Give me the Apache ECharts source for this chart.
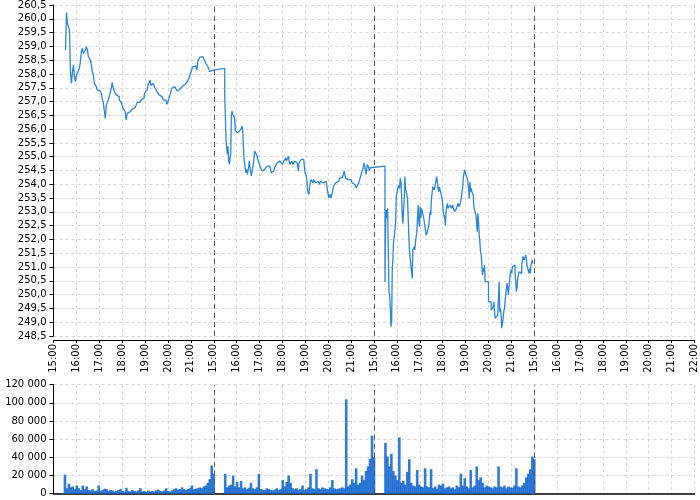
<!DOCTYPE html>
<html><head><meta charset="utf-8">
<script src="https://cdn.jsdelivr.net/npm/echarts@6/dist/echarts.min.js"></script>
<style>html,body{margin:0;padding:0;background:#fff}#c{width:700px;height:500px}</style>
</head><body><div id="c"></div>
<script>
// Trading sessions are shown as 15:00–22:00 blocks (420 minutes each)
const sessionMinutes = 420;
const sessionsOnAxis = 4;

// Price samples per session: first sample minute after 15:00 and sampling step (minutes)
const priceStart = [31.4, 28.8, 28.8];
const priceStep = [2.609, 1.739, 1.739];

const price1 = [258.87,260.23,259.84,259.84,259.59,258.08,257.66,258.08,258.32,257.90,
257.72,257.96,257.94,258.11,258.23,258.45,258.81,258.93,258.75,258.81,
258.87,258.99,258.87,258.63,258.63,258.51,258.32,258.08,257.96,257.66,
257.60,257.54,257.42,257.48,257.38,257.33,257.30,257.09,256.94,257.00,
256.39,256.87,256.84,257.06,257.12,257.33,257.48,257.70,257.48,257.38,
257.33,257.24,257.18,257.18,257.06,257.02,256.97,256.85,256.75,256.69,
256.63,256.33,256.57,256.61,256.63,256.61,256.66,256.72,256.73,256.78,
256.81,256.87,256.97,256.94,256.97,257.00,257.06,257.09,257.12,257.24,
257.33,257.38,257.42,257.60,257.66,257.78,257.58,257.60,257.66,257.60,
257.48,257.45,257.36,257.30,257.24,257.21,257.18,257.12,257.08,257.06,
257.03,257.00,256.90,256.87,257.12,257.24,257.38,257.48,257.54,257.54,
257.58,257.48,257.38,257.36,257.45,257.48,257.50,257.54,257.60,257.62,
257.65,257.67,257.70,257.74,257.84,257.96,258.02,258.18,258.26,258.30,
258.29,258.30,258.14,258.47,258.54,258.61,258.63,258.63,258.61,258.54,
258.51,258.39,258.32,258.26,258.18,258.08,258.02,258.14,258.20];

const price2 = [257.19,257.13,255.56,255.50,255.08,255.38,254.84,254.72,254.96,255.08,
256.53,256.65,256.53,256.59,256.47,256.41,255.93,255.87,255.93,255.90,
255.87,255.93,255.81,255.93,255.99,256.05,256.11,255.99,255.44,254.96,
254.96,254.54,254.42,254.54,254.36,254.48,254.60,254.84,254.60,254.48,
254.30,254.30,254.36,254.72,254.90,255.20,255.20,255.14,255.08,255.02,
254.90,254.84,254.84,254.66,254.66,254.60,254.48,254.48,254.54,254.54,
254.54,254.48,254.54,254.60,254.66,254.66,254.66,254.66,254.60,254.54,
254.42,254.36,254.48,254.48,254.54,254.60,254.66,254.66,254.66,254.78,
254.78,254.72,254.78,254.84,254.78,254.84,254.78,254.72,254.78,254.84,
254.90,254.84,254.96,254.84,254.78,254.90,255.02,254.84,254.72,254.78,
254.78,254.84,254.78,254.72,254.78,254.84,254.78,254.78,254.84,254.78,
254.66,254.48,254.78,254.84,254.78,254.90,254.90,254.90,254.90,254.90,
254.90,254.42,254.36,254.30,254.11,253.75,253.81,253.63,253.93,254.05,
254.17,254.23,254.11,254.05,254.17,254.11,254.17,254.05,254.11,253.99,
254.05,254.11,254.05,253.99,254.11,254.05,254.11,254.05,254.05,254.11,
254.11,254.11,254.11,254.05,253.93,253.75,253.69,253.51,253.57,253.63,
253.51,253.57,253.69,253.81,253.93,253.99,253.99,254.05,254.11,254.05,
254.11,254.11,254.17,254.23,254.17,254.30,254.17,254.23,254.30,254.36,
254.48,254.36,254.23,254.23,254.17,254.17,254.23,254.23,254.17,254.17,
254.17,254.11,254.05,254.05,253.99,254.05,253.99,253.93,253.87,253.93,
253.81,253.93,254.05,254.11,254.23,254.23,254.17,254.30,254.54,254.66,
254.78,254.66,254.48,254.36,254.54,254.72,254.72,254.60,254.48,254.60,
254.66,254.60,254.66,254.66];

const price3 = [250.47,252.64,253.07,252.77,253.13,253.19,250.11,249.99,249.50,248.84,
249.02,250.95,251.32,251.98,252.10,252.16,252.64,253.55,253.61,253.85,
253.91,253.97,253.85,254.22,254.09,253.61,252.89,252.58,253.07,253.37,
254.28,253.85,253.91,253.79,253.49,253.49,252.04,251.56,251.50,251.07,
250.83,250.59,251.62,251.68,251.74,251.62,251.92,251.92,252.28,252.34,
253.25,252.64,252.46,253.19,252.77,253.13,253.13,253.07,252.83,252.77,
252.52,252.46,252.16,252.10,252.28,252.28,252.52,252.58,253.01,252.89,
253.49,253.67,253.91,253.85,253.79,253.91,253.97,253.97,254.28,254.22,
253.85,253.73,253.91,253.85,253.85,253.85,253.49,253.25,252.95,252.89,
252.77,252.52,253.01,252.95,253.31,253.13,253.19,253.13,253.25,253.25,
253.13,253.07,253.25,253.13,253.07,253.01,252.95,252.95,253.13,253.13,
253.31,253.25,253.19,253.19,253.37,253.49,253.73,253.85,254.22,254.22,
254.52,254.52,254.34,254.28,254.22,254.15,253.85,253.49,254.09,253.73,
253.85,253.73,253.67,253.61,253.19,253.07,253.01,252.89,252.64,252.28,
252.95,252.64,252.16,251.92,251.56,251.44,251.07,250.71,250.95,250.83,
251.07,250.47,250.47,250.41,250.47,250.47,249.74,249.68,249.74,249.74,
249.44,249.44,249.50,249.56,249.74,249.74,249.14,249.14,249.20,249.08,
249.26,249.26,250.47,249.38,249.50,249.26,248.78,248.78,249.14,249.38,
249.50,249.50,249.99,249.99,250.41,250.23,249.99,249.99,250.59,250.59,
250.89,250.77,251.01,251.01,251.07,251.07,250.83,250.47,250.11,250.23,
250.59,250.71,250.83,250.83,250.77,250.77,251.07,251.19,251.38,251.44,
251.25,251.19,251.44,251.32,251.07,250.95,250.89,250.77,250.95,250.77,
251.07,251.07,251.25,251.13];

// Volume per session, first bar at 15:30, one bar every 5.2 minutes up to 22:00
const volumeStart = 30;
const volumeStep = 5.2;
const volume1 = [21000,6000,11000,7000,8000,5000,9000,6000,4000,9000,
5000,8000,4000,3500,5000,3000,3500,9000,3000,4000,
5500,5000,3000,4000,3500,2500,3000,4000,5000,3000,
2500,6500,3000,2500,4000,3000,2500,3500,6000,2500,
3000,2000,3500,2500,3000,2500,3500,4500,3000,2500,
3500,6000,3000,2500,3500,5000,6000,4500,5000,7000,
5000,4000,5000,6000,9000,5000,5500,6000,7000,6000,
8000,9000,12000,16000,31000,22000];
const volume2 = [22000,7000,9000,10000,20000,8000,13000,7000,14000,6000,
7000,5000,6500,12000,6000,5000,7000,22000,5000,4500,
4000,6000,5000,4000,3500,4500,6000,4000,5000,15000,
8000,13000,20000,12000,6000,5000,6000,4500,5000,9000,
4500,5000,7000,22000,6000,5000,27000,6000,5000,7000,
6000,5500,5000,7000,15000,6000,5000,5500,6000,7000,
6000,104000,8000,10000,16000,12000,28000,10000,12000,20000,
15000,25000,30000,38000,64000,40000];
const volume3 = [56000,41000,30000,44000,25000,20000,15000,62000,12000,14000,
10000,24000,38000,12000,9000,8000,26000,10000,8000,7000,
28000,8000,7000,27000,6000,8000,5500,10000,9000,11000,
6000,7000,8000,6000,7000,5000,9000,7000,22000,9000,
17000,8000,6000,26000,7000,9000,30000,15000,18000,12000,
7000,9000,8000,7000,6000,8000,7000,30000,8000,7000,
9000,6000,8000,7000,6500,9000,28000,8000,7000,9000,
12000,18000,22000,27000,41000,38000];

const priceSessions = [price1, price2, price3];
const volumeSessions = [volume1, volume2, volume3];

const pricePoints = [];
priceSessions.forEach((arr, s) => {
  arr.forEach((v, i) => pricePoints.push([s * sessionMinutes + priceStart[s] + i * priceStep[s], v]));
});
const volumePoints = [];
volumeSessions.forEach((arr, s) => {
  arr.forEach((v, i) => volumePoints.push([s * sessionMinutes + volumeStart + i * volumeStep, v]));
});
const sessionBreaks = [];
for (let s = 1; s < priceSessions.length + 1; s++) sessionBreaks.push({ xAxis: s * sessionMinutes });

const FONT = 'DejaVu Sans';
const gridLine = { show: true, lineStyle: { color: '#d6d6d6', type: [3, 3], width: 1 } };
const xMax = sessionMinutes * sessionsOnAxis;
function timeLabel(v) {
  if (v >= xMax) return (15 + sessionMinutes / 60) + ':00';
  const h = 15 + Math.round((v % sessionMinutes) / 60);
  return h + ':00';
}
const breakLine = {
  symbol: 'none', silent: true, label: { show: false },
  lineStyle: { color: '#555', type: [5, 4], width: 1 },
  data: sessionBreaks
};

const chart = echarts.init(document.getElementById('c'), null, { renderer: 'canvas' });
chart.setOption({
  animation: false,
  backgroundColor: '#fff',
  grid: [
    { left: 53.5, right: 5.5, top: 5, height: 331 },
    { left: 53.5, right: 5.5, top: 384.7, height: 109 }
  ],
  xAxis: [
    { type: 'value', gridIndex: 0, min: 0, max: xMax, interval: 60, offset: 4,
      axisLine: { show: true, onZero: false, lineStyle: { color: '#000', width: 1 } },
      axisTick: { show: true, length: 3, lineStyle: { color: '#000' } },
      axisLabel: { rotate: 90, margin: 4, fontSize: 10, fontFamily: FONT, color: '#000', formatter: timeLabel, showMinLabel: true, showMaxLabel: true },
      splitLine: gridLine },
    { type: 'value', gridIndex: 1, min: 0, max: xMax, interval: 60,
      axisLine: { show: true, onZero: false, lineStyle: { color: '#000', width: 1.5 } },
      axisTick: { show: false }, axisLabel: { show: false },
      splitLine: gridLine }
  ],
  yAxis: [
    { type: 'value', gridIndex: 0, min: 248.5, max: 260.5, interval: 0.5, offset: 2,
      axisLine: { show: true, lineStyle: { color: '#000', width: 1 } },
      axisTick: { show: true, length: 4, lineStyle: { color: '#000' } },
      axisLabel: { margin: 5, fontSize: 10, fontFamily: FONT, color: '#000', formatter: v => v.toFixed(1).replace('.', ',') },
      splitLine: gridLine },
    { type: 'value', gridIndex: 1, min: 0, max: 120000, interval: 20000, offset: 2,
      axisLine: { show: true, lineStyle: { color: '#000', width: 1 } },
      axisTick: { show: true, length: 4, lineStyle: { color: '#000' } },
      axisLabel: { margin: 5, fontSize: 10, fontFamily: FONT, color: '#000', formatter: v => String(v).replace(/\B(?=(\d{3})+(?!\d))/g, ' ') },
      splitLine: gridLine }
  ],
  series: [
    { type: 'line', xAxisIndex: 0, yAxisIndex: 0, data: pricePoints, step: 'end',
      showSymbol: false, lineStyle: { color: '#2f84d8', width: 1.3 }, markLine: breakLine, z: 3 },
    { type: 'bar', xAxisIndex: 1, yAxisIndex: 1, data: volumePoints, barWidth: 2.6,
      itemStyle: { color: 'rgba(22,104,208,0.88)' }, markLine: breakLine, z: 3 }
  ]
});
</script></body></html>
